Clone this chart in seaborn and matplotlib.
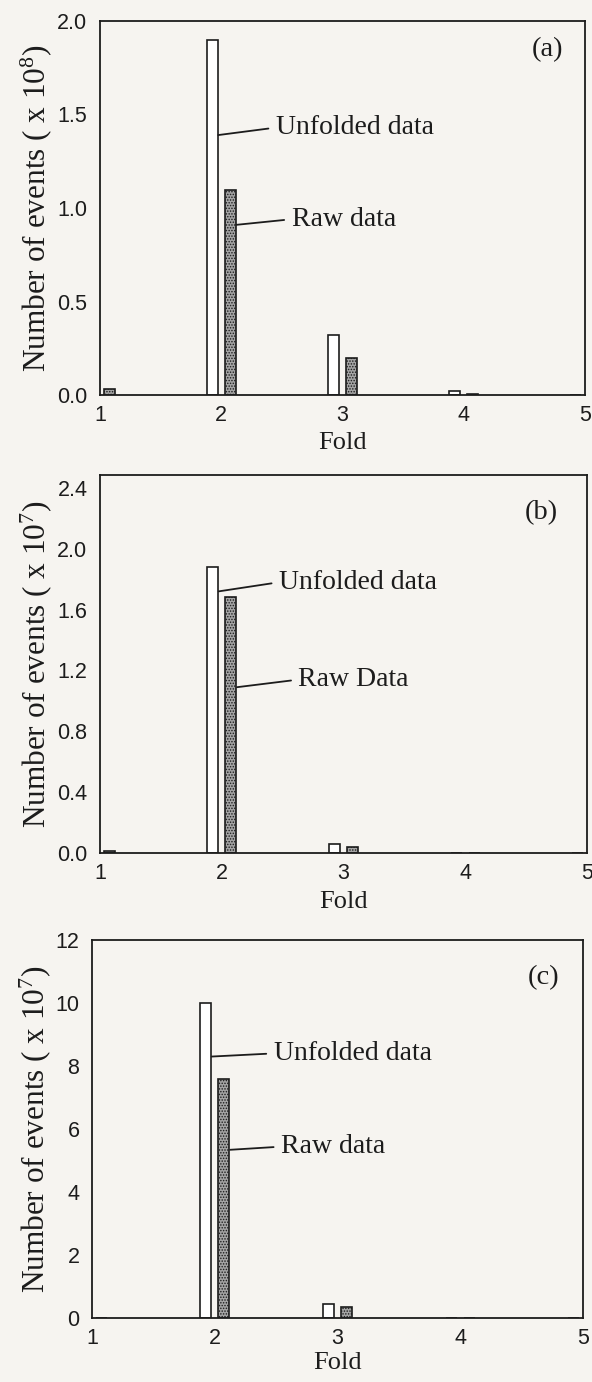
import numpy as np
import pandas as pd
import matplotlib
matplotlib.use("Agg")
import matplotlib.pyplot as plt
import seaborn as sns

# ---------------- data ----------------
folds = [1, 2, 3, 4, 5]
series_names = ["Unfolded data", "Raw data"]

# panel (a): x 1e8
a_unfolded = [0.0, 1.90, 0.32, 0.022, 0.0]
a_raw = [0.03, 1.095, 0.20, 0.008, 0.0]
# panel (b): x 1e7
b_unfolded = [0.0, 1.88, 0.059, 0.0, 0.0]
b_raw = [0.012, 1.68, 0.042, 0.0, 0.0]
# panel (c): x 1e7
c_unfolded = [0.0, 10.0, 0.44, 0.0, 0.0]
c_raw = [0.0, 7.6, 0.34, 0.0, 0.0]

panel_tags = ["(a)", "(b)", "(c)"]
ylabels = ["Number of events ( x 10$^{8}$)",
           "Number of events ( x 10$^{7}$)",
           "Number of events ( x 10$^{7}$)"]
yticks_list = [[0.0, 0.5, 1.0, 1.5, 2.0],
               [0.0, 0.4, 0.8, 1.2, 1.6, 2.0, 2.4],
               [0, 2, 4, 6, 8, 10, 12]]
ytick_labels = [["0.0", "0.5", "1.0", "1.5", "2.0"],
                ["0.0", "0.4", "0.8", "1.2", "1.6", "2.0", "2.4"],
                ["0", "2", "4", "6", "8", "10", "12"]]
xtick_labels = ["1", "2", "3", "4", "5"]
raw_names = ["Raw data", "Raw Data", "Raw data"]

# ---------------- style ----------------
sns.set_theme(style="white")
plt.rcParams["font.family"] = ["Liberation Sans", "DejaVu Sans"]
plt.rcParams["mathtext.fontset"] = "custom"
plt.rcParams["mathtext.rm"] = "Liberation Serif"
plt.rcParams["mathtext.it"] = "Liberation Serif:italic"
plt.rcParams["hatch.color"] = "#3a3a3a"
plt.rcParams["hatch.linewidth"] = 0.7

BG = "#f6f4f0"
INK = "#1c1c1c"
SERIF = ["Liberation Serif", "DejaVu Serif"]

fig = plt.figure(figsize=(5.92, 13.82), dpi=100, facecolor=BG)

positions = [
    [100 / 592, 1 - 395 / 1382, 485 / 592, 374 / 1382],
    [100 / 592, 1 - 853 / 1382, 487 / 592, 378 / 1382],
    [92 / 592, 1 - 1318 / 1382, 491 / 592, 378 / 1382],
]
ylims = [(0, 2.0), (0, 2.485), (0, 12)]
ylabel_x = [-0.095, -0.095, -0.079]
xlabel_y = [-0.10, -0.10, -0.09]

datasets = [(a_unfolded, a_raw), (b_unfolded, b_raw), (c_unfolded, c_raw)]

# annotation placements (data coords): (line start, text position)
ann_unf = [((1.975, 1.39), (2.45, 1.43)),
           ((1.975, 1.72), (2.47, 1.78)),
           ((1.975, 8.30), (2.48, 8.40))]
ann_raw = [((2.125, 0.91), (2.58, 0.94)),
           ((2.125, 1.09), (2.63, 1.14)),
           ((2.125, 5.34), (2.54, 5.44))]
tag_pos = [(4.56, 1.845), (4.49, 2.24), (4.55, 10.8)]

for i in range(3):
    ax = fig.add_axes(positions[i])
    ax.set_facecolor(BG)
    unf, raw = datasets[i]
    df = pd.DataFrame({
        "fold": folds * 2,
        "value": list(unf) + list(raw),
        "series": [series_names[0]] * len(folds) + [series_names[1]] * len(folds),
    })
    sns.barplot(data=df, x="fold", y="value", hue="series", native_scale=True,
                width=0.30, gap=0.40,
                palette={series_names[0]: "white", series_names[1]: "#a4a4a4"},
                edgecolor=INK, linewidth=1.2, legend=False, ax=ax, errorbar=None)
    n = len(folds)
    for k, p in enumerate(ax.patches):
        if k >= n:
            p.set_hatch("......")
    ax.set_xlim(1, 5)
    ax.set_ylim(*ylims[i])
    ax.set_xticks(folds)
    ax.set_xticklabels(xtick_labels)
    ax.set_yticks(yticks_list[i])
    ax.set_yticklabels(ytick_labels[i])
    ax.tick_params(axis="both", length=0, labelsize=15.5, colors=INK)
    ax.tick_params(axis="y", pad=9)
    ax.tick_params(axis="x", pad=7)
    for s in ax.spines.values():
        s.set_visible(True)
        s.set_color(INK)
        s.set_linewidth(1.3)
    ax.set_xlabel("Fold", fontsize=19, family=SERIF, color=INK)
    ax.xaxis.set_label_coords(0.5, xlabel_y[i])
    ax.set_ylabel(ylabels[i], fontsize=22.5, family=SERIF, color=INK)
    ax.yaxis.set_label_coords(ylabel_x[i], 0.5)

    (xy, xt) = ann_unf[i]
    ax.annotate(series_names[0], xy=xy, xytext=xt, ha="left", va="center",
                fontsize=20, family=SERIF, color=INK,
                arrowprops=dict(arrowstyle="-", color=INK, lw=1.3,
                                shrinkA=3, shrinkB=0, relpos=(0, 0.5)))
    (xy, xt) = ann_raw[i]
    ax.annotate(raw_names[i], xy=xy, xytext=xt, ha="left", va="center",
                fontsize=20, family=SERIF, color=INK,
                arrowprops=dict(arrowstyle="-", color=INK, lw=1.3,
                                shrinkA=3, shrinkB=0, relpos=(0, 0.5)))
    ax.text(tag_pos[i][0], tag_pos[i][1], panel_tags[i], ha="left", va="center",
            fontsize=20.5, family=SERIF, color=INK)

fig.savefig("out.png", dpi=100, facecolor=BG)
